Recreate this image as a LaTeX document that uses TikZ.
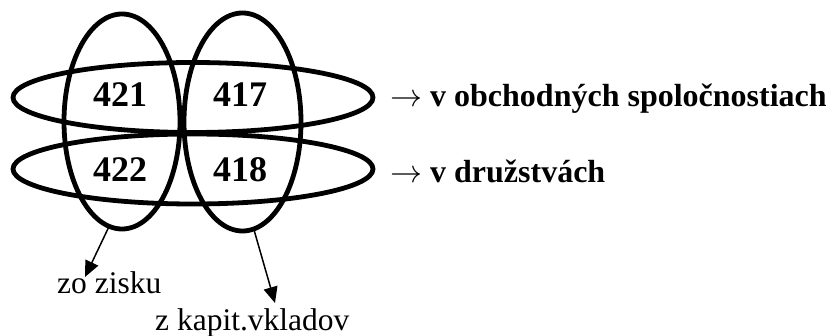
\documentclass[tikz,border=0pt]{standalone}
\usepackage{fix-cm}
\usepackage{fontspec}
\setmainfont{Liberation Serif}
\usetikzlibrary{shapes.geometric,arrows.meta}
\begin{document}
\begin{tikzpicture}[x=1pt,y=-1pt,
  ell/.style={draw, ellipse, line width=4.8pt, inner sep=0pt, outer sep=0pt},
  num/.style={font=\fontsize{36}{40}\selectfont\bfseries, inner sep=0pt},
  side/.style={font=\fontsize{32}{36}\selectfont\bfseries, anchor=base west, inner sep=0pt},
  lab/.style={font=\fontsize{31.5}{36}\selectfont, anchor=base west, inner sep=0pt},
  arr/.style={line width=1.5pt, -{Triangle[length=16pt,width=14pt]}}]
\useasboundingbox (0,0) rectangle (834,336);
\node[ell, minimum width=116pt, minimum height=215pt] (L) at (122,121.5) {};
\node[ell, minimum width=117pt, minimum height=218pt] (R) at (242.5,122) {};
\node[ell, minimum width=360pt, minimum height=70pt] (T) at (193,97.5) {};
\node[ell, minimum width=360pt, minimum height=70pt] (B) at (193,169) {};
\node[num] (n421) at (120,94.5) {421};
\node[num] (n417) at (240,94.5) {417};
\node[num] (n422) at (120,169.5) {422};
\node[num] (n418) at (240,169.5) {418};
\node[side] (t1) at (390,107) {$\rightarrow$ v obchodných spoločnostiach};
\node[side] (t2) at (390,183) {$\rightarrow$ v družstvách};
\node[lab] (zo) at (57,293) {zo zisku};
\node[lab] (zk) at (155,330) {z kapit.vkladov};
\coordinate (a1) at (85,277);
\coordinate (a2) at (275,303);
\draw[arr] (L.-97) -- (a1);
\draw[arr] (R.-84) -- (a2);
\end{tikzpicture}
\end{document}
